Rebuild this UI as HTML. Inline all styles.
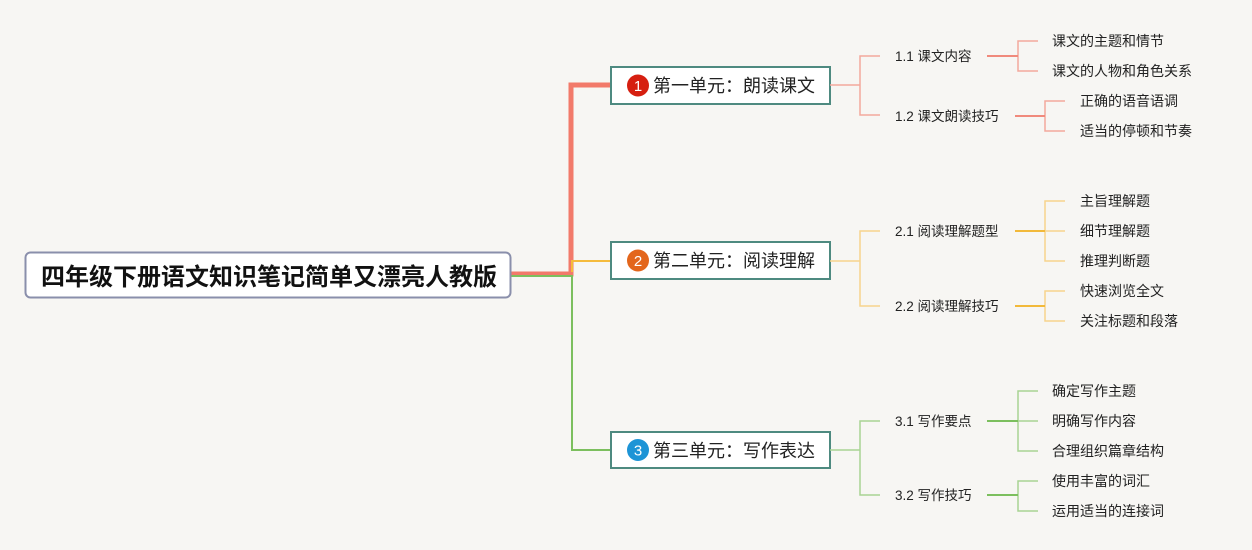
<!DOCTYPE html>
<html><head><meta charset="utf-8"><style>
html,body{margin:0;padding:0;background:#f7f6f3;}
svg{display:block}
text{font-family:"Liberation Sans","Noto Sans CJK SC",sans-serif;fill:#222}
.l{font-size:13.5px}
.f{font-size:14px}
.u{font-size:18px}
</style></head><body>
<svg width="1252" height="550" viewBox="0 0 1252 550" xmlns="http://www.w3.org/2000/svg">
<rect width="1252" height="550" fill="#f7f6f3"/>
<path d="M511 274 H571 V85 H611" fill="none" stroke="#f27a6a" stroke-width="5"/>
<path d="M511 276 H572 V450 H611" fill="none" stroke="#7cbf5e" stroke-width="2"/>
<path d="M572 272 V261 H611" fill="none" stroke="#f5bb3c" stroke-width="2"/>
<rect x="25.5" y="252.5" width="485" height="45" rx="5" fill="#fff" stroke="#8a8fab" stroke-width="2"/>
<text x="269" y="285" text-anchor="middle" style="font-size:24px;font-weight:bold;fill:#111">四年级下册语文知识笔记简单又漂亮人教版</text>
<g stroke="#4e8a80" stroke-width="2" fill="#fff">
<rect x="611" y="67" width="219" height="37"/>
<rect x="611" y="242" width="219" height="37"/>
<rect x="611" y="432" width="219" height="36"/>
</g>
<circle cx="638" cy="85.5" r="11" fill="#d61f10"/><text x="638" y="91" text-anchor="middle" style="font-size:15px;fill:#fff">1</text>
<circle cx="638" cy="260.5" r="11" fill="#e3661c"/><text x="638" y="266" text-anchor="middle" style="font-size:15px;fill:#fff">2</text>
<circle cx="638" cy="450" r="11" fill="#1d94d6"/><text x="638" y="455.5" text-anchor="middle" style="font-size:15px;fill:#fff">3</text>
<text class="u" x="653" y="92" textLength="162">第一单元：朗读课文</text>
<text class="u" x="653" y="267" textLength="162">第二单元：阅读理解</text>
<text class="u" x="653" y="457" textLength="162">第三单元：写作表达</text>
<g fill="none" stroke="#f4a89d" stroke-width="1.5">
<path d="M830 85 H860 M880 56 H860 V115 H880"/>
<path d="M1038 41 H1018 V71 H1038"/>
<path d="M1065 101 H1045 V131 H1065"/>
</g>
<g stroke="#f08a7c" stroke-width="2"><path d="M987 56 H1018 M1015 116 H1045"/></g>
<g fill="none" stroke="#f7d48c" stroke-width="1.5">
<path d="M830 261 H860 M880 231 H860 V306 H880"/>
<path d="M1065 201 H1045 V261 H1065 M1045 231 H1065"/>
<path d="M1065 291 H1045 V321 H1065"/>
</g>
<g stroke="#f2b93a" stroke-width="2"><path d="M1015 231 H1045 M1015 306 H1045"/></g>
<g fill="none" stroke="#a8d493" stroke-width="1.5">
<path d="M830 450 H860 M880 421 H860 V495 H880"/>
<path d="M1038 391 H1018 V451 H1038 M1018 421 H1038"/>
<path d="M1038 481 H1018 V511 H1038"/>
</g>
<g stroke="#7cbf5e" stroke-width="2"><path d="M987 421 H1018 M987 495 H1018"/></g>
<text class="l" x="895" y="61">1.1 课文内容</text>
<text class="l" x="895" y="121">1.2 课文朗读技巧</text>
<text class="f" x="1052" y="46">课文的主题和情节</text>
<text class="f" x="1052" y="76">课文的人物和角色关系</text>
<text class="f" x="1080" y="106">正确的语音语调</text>
<text class="f" x="1080" y="136">适当的停顿和节奏</text>
<text class="l" x="895" y="236">2.1 阅读理解题型</text>
<text class="l" x="895" y="311">2.2 阅读理解技巧</text>
<text class="f" x="1080" y="206">主旨理解题</text>
<text class="f" x="1080" y="236">细节理解题</text>
<text class="f" x="1080" y="266">推理判断题</text>
<text class="f" x="1080" y="296">快速浏览全文</text>
<text class="f" x="1080" y="326">关注标题和段落</text>
<text class="l" x="895" y="426">3.1 写作要点</text>
<text class="l" x="895" y="500">3.2 写作技巧</text>
<text class="f" x="1052" y="396">确定写作主题</text>
<text class="f" x="1052" y="426">明确写作内容</text>
<text class="f" x="1052" y="456">合理组织篇章结构</text>
<text class="f" x="1052" y="486">使用丰富的词汇</text>
<text class="f" x="1052" y="516">运用适当的连接词</text>
</svg>
</body></html>
